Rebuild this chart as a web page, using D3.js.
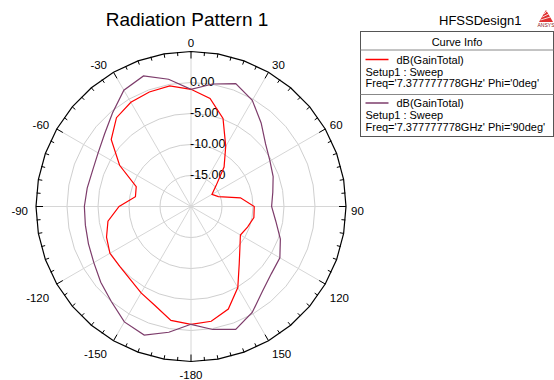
<!DOCTYPE html>
<html>
<head>
<meta charset="utf-8">
<script src="https://cdn.jsdelivr.net/npm/d3@7"></script>
<style>
  body { margin: 0; background: #fff; }
  text { font-family: "Liberation Sans", Arial, sans-serif; fill: #000; }
</style>
</head>
<body>
<svg id="chart" width="554" height="380"></svg>
<script>
'use strict';

// theta in degrees, one sample every 10 deg
const angles = d3.range(-180, 180, 10);

// dB(GainTotal), Phi = 0deg
const gainPhi0 = [
  -1.0, -1.35, -3.0, -3.9, -4.7, -5.0, -4.9, -5.5, -6.4, -8.4,
  -10.9, -10.6, -6.7, -3.2, -1.3, -0.6, -0.35, -0.26, -1.1, -2.3,
  -4.9, -8.8, -11.7, -14.7, -16.1, -15.3, -11.9, -9.8, -9.7, -10.3,
  -10.8, -9.7, -7.9, -4.9, -2.4, -1.2
];

// dB(GainTotal), Phi = 90deg
const gainPhi90 = [
  -1.0, 0.6, 2.06, 1.5, 0.0, -1.0, -1.9, -2.4, -2.7, -2.8,
  -3.0, -3.1, -2.7, -1.8, -0.3, 1.66, 2.4, 0.84, -1.1, 0.06,
  1.1, -0.23, -2.4, -4.3, -5.3, -5.9, -6.6, -7.0, -6.1, -4.66,
  -3.45, -3.1, -2.1, -0.26, 1.08, 0.14
];

const ringValues = [-15, -10, -5, 0];
const spokeAngles = d3.range(-180, 180, 30);

const series = [
  { name: "dB(GainTotal)", setup: "Setup1 : Sweep", freq: "Freq='7.377777778GHz' Phi='0deg'", values: gainPhi0, color: "#ff0000" },
  { name: "dB(GainTotal)", setup: "Setup1 : Sweep", freq: "Freq='7.377777778GHz' Phi='90deg'", values: gainPhi90, color: "#7d3c6b" }
];

const svg = d3.select("#chart");
const cx = 191, cy = 206.5, outerR = 155;

const r = d3.scaleLinear().domain([-20, 5]).range([0, outerR]);
const rad = a => a * Math.PI / 180;

// titles
svg.append("text")
  .attr("x", 187).attr("y", 26)
  .attr("text-anchor", "middle")
  .style("font-size", "19px")
  .text("Radiation Pattern 1");

svg.append("text")
  .attr("x", 439).attr("y", 25)
  .style("font-size", "13px")
  .text("HFSSDesign1");

// little vendor logo
const logo = svg.append("g").attr("transform", "translate(546,10)");
logo.append("path").attr("d", "M0,0 L7,12 L-7,12 Z").attr("fill", "#e03030");
[3, 6, 9].forEach(function (y) {
  logo.append("line")
    .attr("x1", -y * 0.6).attr("x2", y * 0.6 - 1)
    .attr("y1", y + 1).attr("y2", y - 2)
    .attr("stroke", "#fff").attr("stroke-width", 0.8);
});
logo.append("text")
  .attr("x", 0).attr("y", 17)
  .attr("text-anchor", "middle")
  .style("font-size", "5px")
  .style("fill", "#8a2020")
  .text("ANSYS");

const g = svg.append("g").attr("transform", "translate(" + cx + "," + cy + ")");

const polyAngles = d3.range(0, 360, 10);
const ring = rr => d3.lineRadial()
  .angle(a => rad(a))
  .radius(rr)
  .curve(d3.curveLinearClosed)(polyAngles);

// grid rings
g.selectAll(".ring")
  .data(ringValues)
  .enter().append("path")
  .attr("class", "ring")
  .attr("d", d => ring(r(d)))
  .attr("fill", "none")
  .attr("stroke", "#cfcfcf")
  .attr("stroke-width", 1);

// spokes
g.selectAll(".spoke")
  .data(spokeAngles)
  .enter().append("line")
  .attr("class", "spoke")
  .attr("x1", 0).attr("y1", 0)
  .attr("x2", d => outerR * Math.sin(rad(d)))
  .attr("y2", d => -outerR * Math.cos(rad(d)))
  .attr("stroke", "#d6d6d6")
  .attr("stroke-width", 1);

// outer boundary and ticks
g.append("path")
  .attr("d", ring(outerR))
  .attr("fill", "none")
  .attr("stroke", "#000")
  .attr("stroke-width", 1.2);

g.selectAll(".tick")
  .data(d3.range(0, 360, 5))
  .enter().append("line")
  .attr("class", "tick")
  .attr("x1", d => outerR * Math.sin(rad(d)))
  .attr("y1", d => -outerR * Math.cos(rad(d)))
  .attr("x2", d => (outerR - (d % 30 === 0 ? 7 : 4)) * Math.sin(rad(d)))
  .attr("y2", d => -(outerR - (d % 30 === 0 ? 7 : 4)) * Math.cos(rad(d)))
  .attr("stroke", "#000")
  .attr("stroke-width", 1);

// angle labels: left side right-aligned, right side left-aligned
const labelR = 158;
const labelDy = d3.scaleLinear()
  .domain([-1, -0.5, 0, 0.5, 1])
  .range([10.5, 12, 4.5, -2.5, -5.2]);
g.selectAll(".alabel")
  .data(spokeAngles)
  .enter().append("text")
  .attr("class", "alabel")
  .each(function (d) {
    const t = rad(d);
    const s = Math.sin(t), c = Math.cos(t);
    let x = labelR * s, anchor = "middle";
    if (s > 0.01) { x += 2; anchor = "start"; }
    else if (s < -0.01) { x -= 5; anchor = "end"; }
    const y = -labelR * c + labelDy(c);
    d3.select(this)
      .attr("x", x)
      .attr("y", y)
      .attr("dy", "0.36em")
      .attr("text-anchor", anchor);
  })
  .style("font-size", "11.5px")
  .text(d => d);

// radial labels
g.selectAll(".rlabel")
  .data(ringValues)
  .enter().append("text")
  .attr("class", "rlabel")
  .attr("x", -1)
  .attr("y", d => -r(d) + 3.5)
  .style("font-size", "12.5px")
  .text(d => d.toFixed(2));

// traces
const trace = d3.lineRadial()
  .angle((d, i) => rad(angles[i]))
  .radius(d => r(d))
  .curve(d3.curveLinearClosed);

g.selectAll(".trace")
  .data(series)
  .enter().append("path")
  .attr("class", "trace")
  .attr("d", d => trace(d.values))
  .attr("fill", "none")
  .attr("stroke", d => d.color)
  .attr("stroke-width", 1.2);

// legend
const lg = svg.append("g").attr("transform", "translate(360.5,31.5)");
lg.append("rect")
  .attr("width", 193).attr("height", 105)
  .attr("fill", "#fff")
  .attr("stroke", "#555");
lg.append("text")
  .attr("x", 96.5).attr("y", 14)
  .attr("text-anchor", "middle")
  .style("font-size", "11px")
  .text("Curve Info");
lg.append("line")
  .attr("x1", 0).attr("x2", 193)
  .attr("y1", 18.5).attr("y2", 18.5)
  .attr("stroke", "#888");

series.forEach(function (s, i) {
  const y0 = 28 + i * 43.5;
  if (i > 0) {
    lg.append("line")
      .attr("x1", 0).attr("x2", 193)
      .attr("y1", y0 - 8.5).attr("y2", y0 - 8.5)
      .attr("stroke", "#888");
  }
  lg.append("line")
    .attr("x1", 5).attr("x2", 28)
    .attr("y1", y0).attr("y2", y0)
    .attr("stroke", s.color)
    .attr("stroke-width", 1.5);
  lg.append("text").attr("x", 36).attr("y", y0 + 4).style("font-size", "11px").text(s.name);
  lg.append("text").attr("x", 5).attr("y", y0 + 16).style("font-size", "11px").text(s.setup);
  lg.append("text").attr("x", 5).attr("y", y0 + 27.5).style("font-size", "11px").text(s.freq);
});
</script>
</body>
</html>
